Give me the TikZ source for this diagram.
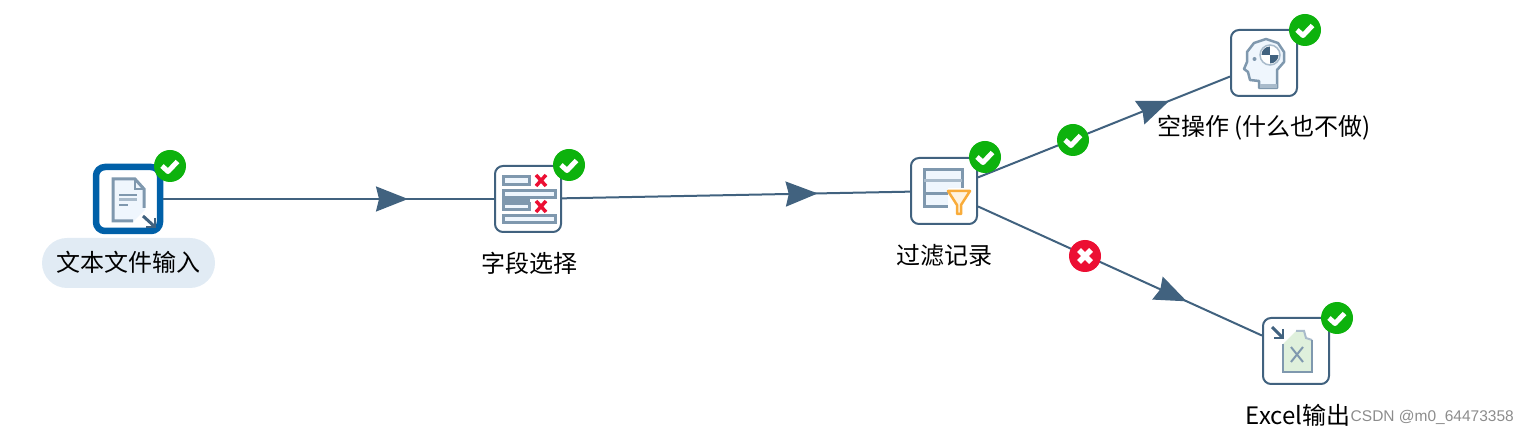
\documentclass[tikz,border=0pt]{standalone}
\usepackage{fontspec}
\setmainfont{Noto Sans CJK SC}
\newfontfamily\wmfont{Liberation Sans}
\usetikzlibrary{arrows.meta,decorations.markings}
\definecolor{steel}{HTML}{41627F}
\definecolor{iconmid}{HTML}{7F98AE}
\definecolor{iconlight}{HTML}{A9BBCB}
\definecolor{iconpale}{HTML}{EFF6FD}
\definecolor{okgreen}{HTML}{0DB20D}
\definecolor{badred}{HTML}{EC0F33}
\definecolor{selblue}{HTML}{0060A8}
\definecolor{pill}{HTML}{E1EBF4}
\definecolor{funnel}{HTML}{F9AC3A}
\definecolor{sheet}{HTML}{DFF0DC}
\tikzset{
  x=1pt,y=-1pt,
  stepbox/.style={draw=steel,line width=2pt,rounded corners=8pt,fill=white,minimum size=66pt,inner sep=0pt},
  selbox/.style={draw=selblue,line width=6.5pt,rounded corners=9pt,fill=white,minimum size=64pt,inner sep=0pt},
  hop/.style={draw=steel,line width=2pt,postaction={decorate},
    decoration={markings,mark=at position #1 with {\arrow{Stealth[length=32pt,width=25pt,inset=3pt,fill=steel]}}}},
  badge/.style={circle,minimum size=32pt,inner sep=0pt},
  okbadge/.style={badge,fill=okgreen},
  nobadge/.style={badge,fill=badred},
  mark stroke/.style={draw=white,line width=5pt,line join=round},
  lbl/.style={inner sep=0pt,font=\fontsize{24}{28}\selectfont,text=black},
  iconline/.style={draw=iconmid,line width=3pt},
}
\newcommand{\okmark}[1]{\draw[mark stroke] ([shift={(-8,0)}]#1.center) -- ++(6,5.5) -- ++(9.5,-10);}
\newcommand{\nomark}[1]{\draw[mark stroke,line width=5.5pt] ([shift={(-6,-6)}]#1.center) -- ++(12,12) ([shift={(6,-6)}]#1.center) -- ++(-12,12);}
\begin{document}
\begin{tikzpicture}
\useasboundingbox (0,0) rectangle (1529,435);
% step boxes
\node[selbox] (input) at (128,199) {};
\node[stepbox] (select) at (528,199) {};
\node[stepbox] (filter) at (944,191) {};
\node[stepbox] (noop) at (1264,63) {};
\node[stepbox] (excel) at (1296,351) {};
% connectors
\draw[hop=0.74] (input) -- (select);
\draw[hop=0.735] (select) -- (filter);
\draw[hop=0.76] (filter) -- (noop);
\draw[hop=0.735] (filter) -- (excel);
% text input icon
\fill[iconpale] (112,178) -- (135,178) -- (145,189) -- (145,210) -- (133,222) -- (112,222) -- cycle;
\draw[iconline] (133,221) -- (113,221) -- (113,179) -- (135,179) -- (144,189) -- (144,208);
\draw[iconline,line width=2pt] (135,179) -- (135,189) -- (144,189);
\draw[iconmid,line width=2pt] (119,195) -- (137,195);
\draw[iconlight,line width=3pt] (119,200) -- (137,200);
\draw[iconmid,line width=2pt] (119,205) -- (128,205);
\draw[steel,line width=3pt] (143,216) -- (154,226);
\draw[steel,line width=2.5pt] (155,218) -- (155,227) -- (146,227);
% select icon
\draw[iconline,fill=iconpale] (503.5,176.5) rectangle (529,184.5);
\draw[iconline,fill=iconpale] (503.5,190.5) rectangle (555,198);
\draw[iconline,fill=iconpale] (503.5,203.5) rectangle (529,210);
\draw[iconline,fill=iconpale] (503.5,215.5) rectangle (555,223);
\fill[iconmid] (502,198) rectangle (530,204);
\draw[badred,line width=3.5pt] (536,175) -- (546,186) (546,175) -- (536,186);
\draw[badred,line width=3.5pt] (536,201) -- (546,212) (546,201) -- (536,212);
% filter icon
\fill[iconpale] (924,169) rectangle (962,207);
\draw[iconline] (924.5,169.5) rectangle (962,207);
\draw[iconlight,line width=3pt] (924,181) -- (962,181);
\draw[iconmid,line width=3pt] (924,194) -- (952,194);
\fill[white] (948,188) rectangle (972,216);
\filldraw[draw=funnel,fill=funnel!15,line width=2.5pt,line join=round] (948,191) -- (970,191) -- (961,205) -- (961,214) -- (957,214) -- (957,205) -- cycle;
% no-op icon
\filldraw[draw=iconmid,fill=iconpale,line width=2.5pt,line join=round] (1259,88) -- (1259,81) -- (1250,80) -- (1248,72) -- (1244,69) -- (1247,62) -- (1247,52) -- (1254,43) -- (1266,39) -- (1278,43) -- (1284,52) -- (1284,62) -- (1277,70) -- (1277,88) -- cycle;
\fill[iconlight] (1260,84) rectangle (1277,88);
\draw[iconlight,fill=white,line width=1.5pt] (1270,55) circle[radius=10];
\begin{scope}
  \clip (1270,55) circle[radius=8.5];
  \fill[steel] (1260,45) rectangle (1270,55);
  \fill[steel] (1270,55) rectangle (1280,65);
\end{scope}
\fill[iconmid] (1254.5,59) circle[radius=2];
% excel icon
\fill[sheet] (1283,372) -- (1283,344) -- (1296,331) -- (1305,331) -- (1306,338) -- (1312,340) -- (1312,372) -- cycle;
\draw[iconlight,line width=2pt] (1296,331) -- (1304,331) -- (1306,338) -- (1312,340);
\draw[iconmid,line width=2.5pt] (1283,344) -- (1283,372) -- (1312,372) -- (1312,340);
\draw[steel,line width=3pt] (1272,327) -- (1282,337);
\draw[steel,line width=2.5pt] (1283,329) -- (1283,338) -- (1274,338);
\draw[iconmid,line width=2pt] (1291,347) -- (1303,362) (1303,347) -- (1291,362);
% labels
\fill[pill,rounded corners=25pt] (42,238) rectangle (215,288);
\node[lbl] (lblinput) at (128.5,262) {文本文件输入};
\node[lbl] (lblselect) at (529,263) {字段选择};
\node[lbl] (lblfilter) at (944.5,255) {过滤记录};
\node[lbl] (lblnoop) at (1264,128) {空操作 (什么也不做)};
\node[lbl] (lblexcel) at (1298,415) {Excel输出};
% badges
\node[okbadge] (b1) at (170,166) {}; \okmark{b1}
\node[okbadge] (b2) at (569,165) {}; \okmark{b2}
\node[okbadge] (b3) at (985,157) {}; \okmark{b3}
\node[okbadge] (b4) at (1305,30) {}; \okmark{b4}
\node[okbadge] (b5) at (1337,318) {}; \okmark{b5}
\node[okbadge] (yes) at (1073,140) {}; \okmark{yes}
\node[nobadge] (no) at (1085,256) {}; \nomark{no}
% watermark
\node[anchor=east,inner sep=0pt,text=black!45,font=\wmfont\fontsize{15.5}{18}\selectfont] (wm) at (1514,417) {CSDN @m0\_64473358};
\end{tikzpicture}
\end{document}
